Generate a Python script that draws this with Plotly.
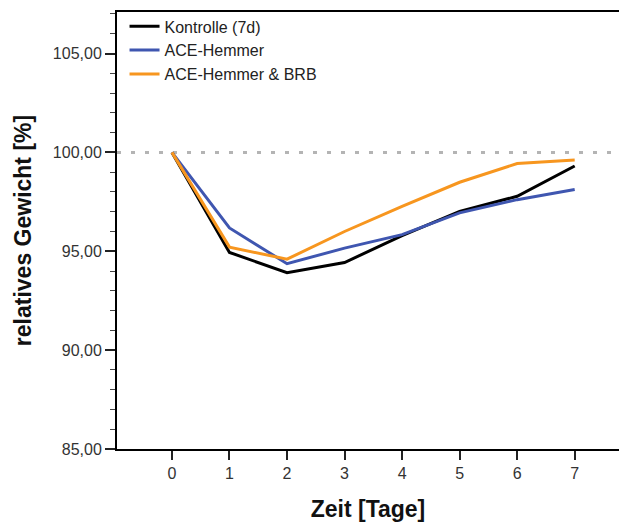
import plotly.graph_objects as go

days = [0, 1, 2, 3, 4, 5, 6, 7]
kontrolle = [100.0, 94.94, 93.92, 94.43, 95.79, 97.02, 97.78, 99.31]
ace = [100.0, 96.18, 94.37, 95.16, 95.84, 96.94, 97.61, 98.12]
ace_brb = [100.0, 95.21, 94.60, 96.00, 97.27, 98.49, 99.44, 99.61]
names = ["Kontrolle (7d)", "ACE-Hemmer", "ACE-Hemmer & BRB"]
colors = ["#000000", "#3f56b0", "#f7961f"]
ref_level = 100.0

fig = go.Figure()
for name, vals, col in zip(names, [kontrolle, ace, ace_brb], colors):
    fig.add_trace(go.Scatter(x=days, y=vals, mode="lines", name=name,
                             line=dict(color=col, width=3)))

fig.add_hline(y=ref_level, line=dict(color="#b4b4b4", width=3, dash="4px,10px"), layer="below")

fig.update_layout(
    width=619, height=522,
    margin=dict(l=117, r=0, t=12, b=73),
    plot_bgcolor="white", paper_bgcolor="white",
    separators=",.",
    font=dict(family="Liberation Sans, Arial, sans-serif", size=16, color="#333333"),
    showlegend=True,
    legend=dict(x=0.015, y=1.006, xanchor="left", yanchor="top",
                bgcolor="rgba(0,0,0,0)", font=dict(size=16, color="#222222"),
                tracegroupgap=0, itemwidth=30),
    xaxis=dict(range=[-0.955, 7.77], tickvals=days, showgrid=False, zeroline=False,
               showline=True, linecolor="black", linewidth=2, mirror=True,
               ticks="outside", ticklen=9, tickwidth=2, tickcolor="#222",
               tickfont=dict(size=16),
               title=dict(text="<b>Zeit [Tage]</b>", font=dict(size=23, color="#111"), standoff=22)),
    yaxis=dict(range=[85, 107.1], tick0=85, dtick=5, tickformat=".2f", showgrid=False,
               zeroline=False, showline=True, linecolor="black", linewidth=2,
               ticks="outside", ticklen=10, tickwidth=2, tickcolor="#222",
               tickfont=dict(size=16),
               minor=dict(dtick=1, ticks="outside", ticklen=5, tickwidth=1, tickcolor="#444"),
               title=dict(text="<b>relatives Gewicht [%]</b>", font=dict(size=23, color="#111"), standoff=15)),
)

fig.write_html("out.html")
